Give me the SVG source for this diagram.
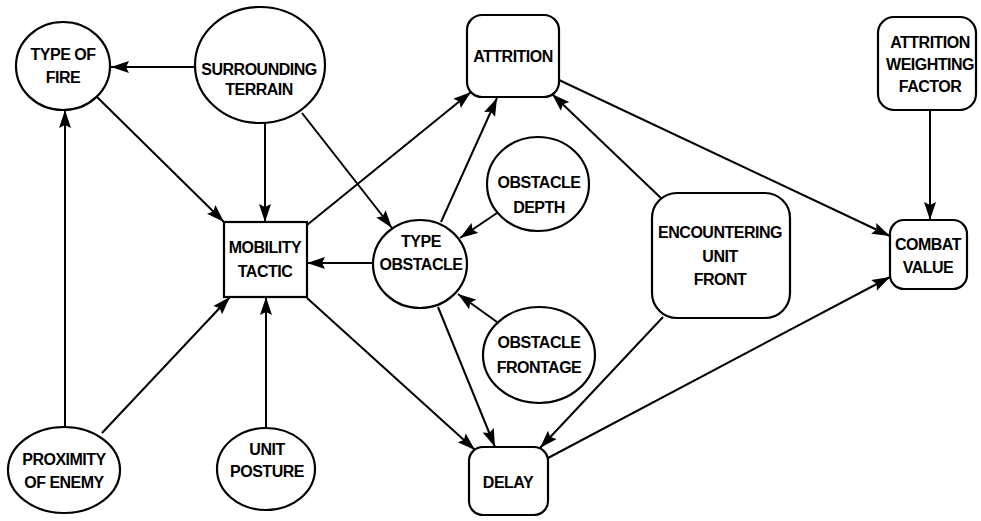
<svg xmlns="http://www.w3.org/2000/svg" width="981" height="521" viewBox="0 0 981 521">
<defs>
<marker id="ah" markerUnits="userSpaceOnUse" markerWidth="19" markerHeight="13" refX="18" refY="6.5" orient="auto">
<path d="M0,0.5 L18,6.5 L0,12.5 L3,6.5 Z" fill="#000"/>
</marker>
<style>
.n{fill:#fff;stroke:#000;stroke-width:2.2}
.t{font-family:"Liberation Sans",Arial,sans-serif;font-weight:bold;font-size:16px;letter-spacing:-0.5px;text-anchor:middle;fill:#000}
.c line{stroke:#000;stroke-width:2;marker-end:url(#ah)}
</style>
</defs>
<rect width="981" height="521" fill="#fff"/>
<g class="c" id="connectors">
<line x1="195" y1="67" x2="111" y2="67"/>
<line x1="97" y1="97" x2="224" y2="222"/>
<line x1="265" y1="123" x2="265" y2="222"/>
<line x1="302" y1="113" x2="392" y2="228"/>
<line x1="65" y1="427" x2="65" y2="110"/>
<line x1="102" y1="433" x2="230" y2="297"/>
<line x1="266" y1="428" x2="266" y2="297"/>
<line x1="372" y1="263" x2="307" y2="263"/>
<line x1="307" y1="225" x2="471" y2="92"/>
<line x1="441" y1="222" x2="497" y2="98"/>
<line x1="497" y1="213" x2="460" y2="238"/>
<line x1="497" y1="322" x2="458" y2="294"/>
<line x1="663" y1="200" x2="552" y2="94"/>
<line x1="559" y1="80" x2="890" y2="236"/>
<line x1="930" y1="110" x2="930" y2="220"/>
<line x1="307" y1="298" x2="475" y2="450"/>
<line x1="438" y1="307" x2="495" y2="447"/>
<line x1="663" y1="317" x2="540" y2="448"/>
<line x1="548" y1="458" x2="890" y2="277"/>
</g>
<g id="type-of-fire"><ellipse class="n" cx="63" cy="66" rx="47" ry="44"/><text class="t" x="63" y="60">TYPE OF</text><text class="t" x="63" y="83">FIRE</text></g>
<g id="surrounding-terrain"><ellipse class="n" cx="260" cy="65" rx="65" ry="58"/><text class="t" x="259" y="75">SURROUNDING</text><text class="t" x="259" y="95">TERRAIN</text></g>
<g id="attrition"><rect class="n" x="467" y="15" width="92" height="82" rx="15"/><text class="t" x="513" y="62">ATTRITION</text></g>
<g id="attrition-weighting-factor"><rect class="n" x="878" y="17" width="98" height="93" rx="16"/><text class="t" x="930" y="48">ATTRITION</text><text class="t" x="930" y="70">WEIGHTING</text><text class="t" x="930" y="92">FACTOR</text></g>
<g id="combat-value"><rect class="n" x="890" y="220" width="77" height="69" rx="14"/><text class="t" x="928" y="250">COMBAT</text><text class="t" x="928" y="273">VALUE</text></g>
<g id="encountering-unit-front"><rect class="n" x="652" y="193" width="138" height="125" rx="25"/><text class="t" x="720" y="238">ENCOUNTERING</text><text class="t" x="720" y="262">UNIT</text><text class="t" x="720" y="285">FRONT</text></g>
<g id="mobility-tactic"><rect class="n" x="224" y="222" width="83" height="75"/><text class="t" x="265" y="253">MOBILITY</text><text class="t" x="265" y="277">TACTIC</text></g>
<g id="type-obstacle"><ellipse class="n" cx="420" cy="264" rx="47" ry="44"/><text class="t" x="421" y="247">TYPE</text><text class="t" x="421" y="270">OBSTACLE</text></g>
<g id="obstacle-depth"><ellipse class="n" cx="538" cy="184" rx="51" ry="47"/><text class="t" x="539" y="188">OBSTACLE</text><text class="t" x="539" y="213">DEPTH</text></g>
<g id="obstacle-frontage"><ellipse class="n" cx="539" cy="355" rx="56" ry="48"/><text class="t" x="539" y="348">OBSTACLE</text><text class="t" x="539" y="373">FRONTAGE</text></g>
<g id="delay"><rect class="n" x="469" y="447" width="79" height="68" rx="14"/><text class="t" x="508" y="488">DELAY</text></g>
<g id="proximity-of-enemy"><ellipse class="n" cx="64" cy="470" rx="56" ry="43"/><text class="t" x="64" y="465">PROXIMITY</text><text class="t" x="64" y="488">OF ENEMY</text></g>
<g id="unit-posture"><ellipse class="n" cx="266" cy="469" rx="49" ry="41"/><text class="t" x="267" y="455">UNIT</text><text class="t" x="267" y="477">POSTURE</text></g>
</svg>
